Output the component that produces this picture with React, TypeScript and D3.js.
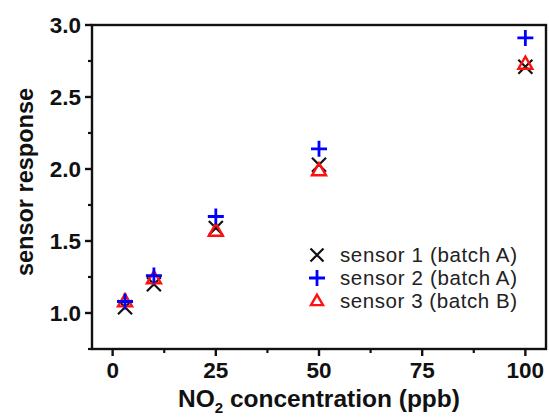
import React from "react";
import * as d3 from "d3";

const concentrations = [3, 10, 25, 50, 100];
const sensor1 = [1.04, 1.2, 1.59, 2.03, 2.71];
const sensor2 = [1.08, 1.26, 1.67, 2.14, 2.91];
const sensor3 = [1.08, 1.24, 1.57, 1.99, 2.73];
const xTicks = [0, 25, 50, 75, 100];
const xMinor = [12.5, 37.5, 62.5, 87.5];
const yTicks = [1.0, 1.5, 2.0, 2.5, 3.0];
const yMinor = [0.75, 1.25, 1.75, 2.25, 2.75];
const legendLabels = ["sensor 1 (batch A)", "sensor 2 (batch A)", "sensor 3 (batch B)"];

const W = 549, H = 420;
const L = 92, R = 546, T = 25, B = 349;
const FONT = "'Liberation Sans', Arial, sans-serif";

const x = d3.scaleLinear().domain([-5, 105]).range([L, R]);
const y = d3.scaleLinear().domain([0.75, 3.0]).range([B, T]);

function Cross({ cx, cy, s = 7 }: { cx: number; cy: number; s?: number }) {
  return (
    <path d={`M${cx - s},${cy - s}L${cx + s},${cy + s}M${cx - s},${cy + s}L${cx + s},${cy - s}`} stroke="#111" strokeWidth={2.2} fill="none" />
  );
}
function Plus({ cx, cy, s = 8 }: { cx: number; cy: number; s?: number }) {
  return (
    <path d={`M${cx - s},${cy}L${cx + s},${cy}M${cx},${cy - s}L${cx},${cy + s}`} stroke="#0000ff" strokeWidth={2.8} fill="none" />
  );
}
function Tri({ cx, cy, s = 7 }: { cx: number; cy: number; s?: number }) {
  const h = s * 1.732;
  return (
    <path d={`M${cx},${cy - h * 0.6}L${cx + s},${cy + h * 0.4}L${cx - s},${cy + h * 0.4}Z`} stroke="#ff1010" strokeWidth={2.4} fill="none" />
  );
}

export default function App() {
  return (
    <svg width={W} height={H} style={{ position: "absolute", left: 0, top: 0, background: "#fff" }}>
      <rect x={0} y={0} width={W} height={H} fill="#fff" />
      <rect x={L} y={T} width={R - L} height={B - T} fill="none" stroke="#111" strokeWidth={2.4} />
      {xTicks.map((t) => (
        <g key={"xt" + t}>
          <line x1={x(t)} x2={x(t)} y1={B} y2={B + 7} stroke="#111" strokeWidth={2.4} />
          <text x={x(t)} y={378} textAnchor="middle" fontFamily={FONT} fontWeight="bold" fontSize={22.5} fill="#111">{t}</text>
        </g>
      ))}
      {xMinor.map((t) => (
        <line key={"xm" + t} x1={x(t)} x2={x(t)} y1={B} y2={B + 4} stroke="#111" strokeWidth={2.2} />
      ))}
      {yTicks.map((t) => (
        <g key={"yt" + t}>
          <line x1={L - 7} x2={L} y1={y(t)} y2={y(t)} stroke="#111" strokeWidth={2.4} />
          <text x={81} y={y(t) + 8} textAnchor="end" fontFamily={FONT} fontWeight="bold" fontSize={22.5} fill="#111">{t.toFixed(1)}</text>
        </g>
      ))}
      {yMinor.map((t) => (
        <line key={"ym" + t} x1={L - 4} x2={L} y1={y(t)} y2={y(t)} stroke="#111" strokeWidth={2.2} />
      ))}
      <text x={319} y={407} textAnchor="middle" fontFamily={FONT} fontWeight="bold" fontSize={24.5} fill="#111">
        NO<tspan fontSize={15} dy={6}>2</tspan><tspan dy={-6}> concentration (ppb)</tspan>
      </text>
      <text transform={`translate(33,182) rotate(-90)`} textAnchor="middle" fontFamily={FONT} fontWeight="bold" fontSize={23.5} fill="#111">
        sensor response
      </text>
      {concentrations.map((c, i) => (
        <g key={"p" + i}>
          <Cross cx={x(c)} cy={y(sensor1[i])} />
          <Tri cx={x(c)} cy={y(sensor3[i])} />
          <Plus cx={x(c)} cy={y(sensor2[i])} />
        </g>
      ))}
      {legendLabels.map((lab, i) => {
        const cy = 255 + i * 23;
        return (
          <g key={"lg" + i}>
            {i === 0 && <Cross cx={317} cy={cy} s={6.5} />}
            {i === 1 && <Plus cx={317} cy={cy} s={8} />}
            {i === 2 && <Tri cx={317} cy={cy} s={6} />}
            <text x={340} y={cy + 7} fontFamily={FONT} fontSize={20.5} textLength={177} lengthAdjust="spacing" fill="#222">{lab}</text>
          </g>
        );
      })}
    </svg>
  );
}
